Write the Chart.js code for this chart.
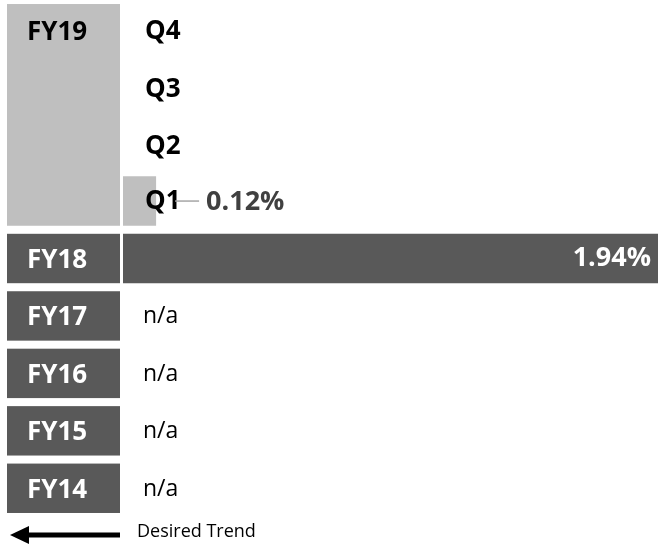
<!DOCTYPE html>
<html>
<head>
<meta charset="utf-8">
<script src="https://cdn.jsdelivr.net/npm/chart.js@4"></script>
<style>
  body { margin: 0; background: #fff; }
  #wrap { width: 658px; height: 550px; }
</style>
</head>
<body>
<div id="wrap"><canvas id="trendChart"></canvas></div>
<script>
// rows from top to bottom
const rowLabels = ['Q4', 'Q3', 'Q2', 'Q1', 'FY18', 'FY17', 'FY16', 'FY15', 'FY14'];
const rowValues = [null, null, null, 0.12, 1.94, null, null, null, null];
const quarterRows = ['Q4', 'Q3', 'Q2', 'Q1'];

// year boxes on the left, and how many rows each covers
const yearLabels = ['FY19', 'FY18', 'FY17', 'FY16', 'FY15', 'FY14'];
const yearSpans = [4, 1, 1, 1, 1, 1];

const LIGHT = '#bfbfbf';
const DARK = '#595959';
const FONT = "'Open Sans', 'DejaVu Sans', sans-serif";

const labelsPlugin = {
  id: 'labelsPlugin',
  afterDatasetsDraw(chart) {
    const ctx = chart.ctx;
    const x = chart.scales.x;
    const y = chart.scales.y;
    const area = chart.chartArea;
    const pitch = y.getPixelForValue(1) - y.getPixelForValue(0);
    const half = pitch * 0.86 / 2;

    ctx.save();
    ctx.textBaseline = 'middle';

    // year boxes
    let row = 0;
    yearLabels.forEach((yr, i) => {
      const first = row, last = row + yearSpans[i] - 1;
      const top = y.getPixelForValue(first) - half;
      const bottom = y.getPixelForValue(last) + half;
      const isCurrent = yearSpans[i] > 1;
      ctx.fillStyle = isCurrent ? LIGHT : DARK;
      ctx.fillRect(7, top, area.left - 3 - 7, bottom - top);
      ctx.fillStyle = isCurrent ? '#000' : '#fff';
      ctx.font = 'bold 26px ' + FONT;
      ctx.textAlign = 'left';
      ctx.fillText(yr, 27, y.getPixelForValue(first) + (isCurrent ? 4 : 2));
      row += yearSpans[i];
    });

    // quarter labels and values
    rowLabels.forEach((lab, i) => {
      const cy = y.getPixelForValue(i);
      const v = rowValues[i];
      if (quarterRows.includes(lab)) {
        ctx.fillStyle = '#000';
        ctx.font = 'bold 26px ' + FONT;
        ctx.textAlign = 'left';
        ctx.fillText(lab, area.left + 22, cy + (v === null ? 3 : 1));
        if (v !== null) {
          const end = x.getPixelForValue(v);
          ctx.strokeStyle = '#a6a6a6';
          ctx.lineWidth = 1.5;
          ctx.beginPath();
          ctx.moveTo(end + 19, cy);
          ctx.lineTo(end + 43, cy);
          ctx.stroke();
          ctx.fillStyle = '#404040';
          ctx.font = 'bold 27px ' + FONT;
          ctx.fillText(v.toFixed(2) + '%', end + 50, cy + 1);
        }
      } else if (v === null) {
        ctx.fillStyle = '#000';
        ctx.font = '23px ' + FONT;
        ctx.textAlign = 'left';
        ctx.fillText('n/a', area.left + 20, cy + 1);
      } else {
        ctx.fillStyle = '#fff';
        ctx.font = 'bold 27px ' + FONT;
        ctx.textAlign = 'right';
        ctx.fillText(v.toFixed(2) + '%', x.getPixelForValue(v) - 7, cy);
      }
    });

    // desired trend arrow
    const ay = area.bottom + 18;
    ctx.fillStyle = '#000';
    ctx.fillRect(26, ay - 2.5, area.left - 3 - 26, 5);
    ctx.beginPath();
    ctx.moveTo(10, ay);
    ctx.lineTo(29, ay - 9);
    ctx.lineTo(29, ay + 9);
    ctx.closePath();
    ctx.fill();
    ctx.font = '18px ' + FONT;
    ctx.textAlign = 'left';
    ctx.fillText('Desired Trend', area.left + 14, ay - 3);
    ctx.restore();
  }
};

new Chart(document.getElementById('trendChart'), {
  type: 'bar',
  data: {
    labels: rowLabels,
    datasets: [{
      data: rowValues,
      backgroundColor: rowLabels.map(l => quarterRows.includes(l) ? LIGHT : DARK),
      borderWidth: 0,
      barPercentage: 0.86,
      categoryPercentage: 1
    }]
  },
  options: {
    indexAxis: 'y',
    responsive: true,
    maintainAspectRatio: false,
    animation: false,
    layout: { padding: { left: 123, right: 0, top: 0, bottom: 33 } },
    plugins: { legend: { display: false }, tooltip: { enabled: false } },
    scales: {
      x: { display: false, min: 0, max: 1.94 },
      y: { display: false }
    }
  },
  plugins: [labelsPlugin]
});
</script>
</body>
</html>
